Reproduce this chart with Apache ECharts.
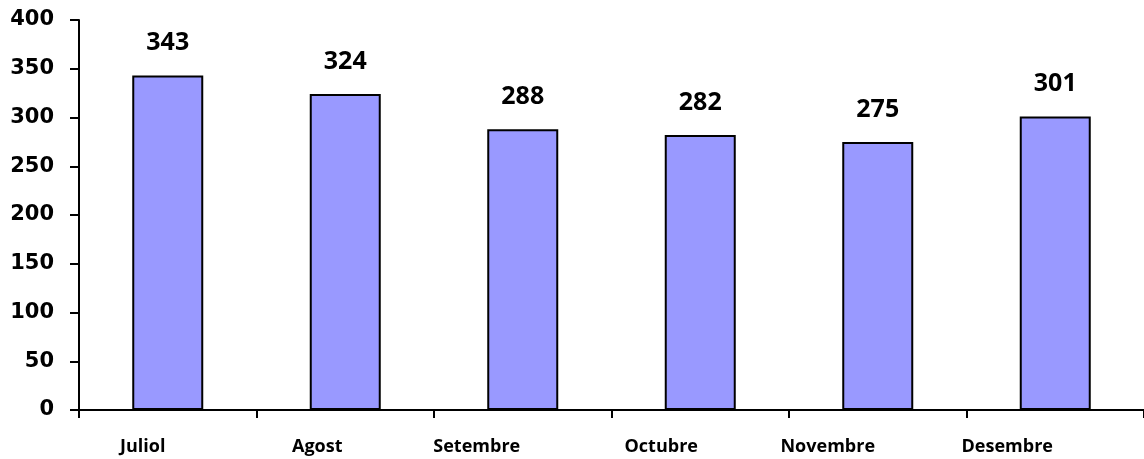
<!DOCTYPE html>
<html><head><meta charset="utf-8">
<script src="https://cdn.jsdelivr.net/npm/echarts@6/dist/echarts.min.js"></script>
<style>html,body{margin:0;padding:0;background:#fff}#c{width:1144px;height:459px}</style>
</head><body><div id="c"></div>
<script>
const categories = ['Juliol', 'Agost', 'Setembre', 'Octubre', 'Novembre', 'Desembre'];
const values = [343, 324, 288, 282, 275, 301];
const yTicks = { min: 0, max: 400, interval: 50 };

// horizontal shift of each category label (px, negative = left)
const labelShift = [-25, -28, -46, -39, -50, -48];
const font = '"Open Sans", "Liberation Sans", sans-serif';
const yFont = '"DejaVu Sans", Verdana, sans-serif';

const chart = echarts.init(document.getElementById('c'));
chart.setOption({
  animation: false,
  grid: { left: 79, right: -3, top: 20, bottom: 49, containLabel: false },
  xAxis: {
    type: 'category',
    data: categories.map((c, i) => ({
      value: c,
      textStyle: { padding: labelShift[i] < 0 ? [0, -2 * labelShift[i], 0, 0] : [0, 0, 0, 2 * labelShift[i]] }
    })),
    axisLine: { lineStyle: { color: '#000', width: 2 } },
    axisTick: { show: true, length: 8, lineStyle: { color: '#000', width: 2 } },
    axisLabel: { color: '#000', fontWeight: 'bold', fontSize: 18, fontFamily: font, margin: 28, interval: 0 },
    splitLine: { show: false }
  },
  yAxis: {
    type: 'value', min: yTicks.min, max: yTicks.max, interval: yTicks.interval,
    axisLine: { show: true, lineStyle: { color: '#000', width: 2 } },
    axisTick: { show: true, length: 9, lineStyle: { color: '#000', width: 2 } },
    axisLabel: { color: '#000', fontWeight: 'bold', fontSize: 21, fontFamily: yFont, margin: 25 },
    splitLine: { show: false }
  },
  series: [{
    type: 'bar',
    data: values,
    barWidth: '40%',
    itemStyle: { color: '#9999FF', borderColor: '#000', borderWidth: 2 },
    label: { show: true, position: 'top', distance: 20, color: '#000', fontWeight: 'bold', fontSize: 25, fontFamily: font }
  }]
});
</script></body></html>
